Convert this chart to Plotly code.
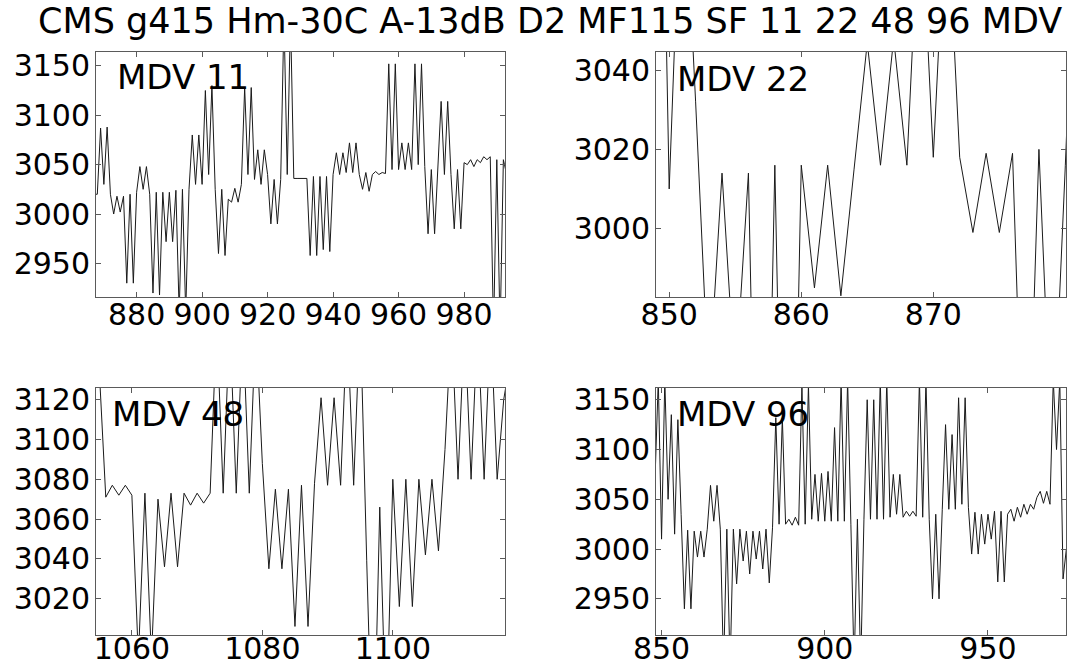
import plotly.graph_objects as go

# ---------------- data ----------------
title_text = "CMS g415 Hm-30C A-13dB D2 MF115 SF 11 22 48 96 MDV"
panel_labels = ["MDV 11", "MDV 22", "MDV 48", "MDV 96"]

# MDV 11
x11 = list(range(867, 994))
y11 = [3020, 3020, 3087, 3030, 3088, 3020, 3000, 3018, 3002, 3018,
       2930, 3020, 2930, 3022, 3048, 3025, 3048, 3020, 2920, 3022,
       2918, 3022, 2972, 3022, 2972, 3024, 2900, 3025, 2900, 3025,
       3080, 3030, 3080, 3030, 3125, 3040, 3130, 3025, 2960, 3025,
       2958, 3015, 3012, 3026, 3012, 3030, 3128, 3040, 3128, 3035,
       3065, 3030, 3065, 3040, 2990, 3035, 2990, 3035, 3200, 3040,
       3200, 3036, 3036, 3036, 3036, 3036, 2958, 3038, 2958, 3038,
       2964, 3038, 2962, 3040, 3062, 3040, 3062, 3042, 3072, 3042,
       3072, 3040, 3025, 3042, 3023, 3040, 3043, 3040, 3042, 3041,
       3152, 3045, 3152, 3045, 3072, 3045, 3072, 3045, 3152, 3050,
       3152, 3048, 2980, 3045, 2980, 3048, 3114, 3040, 3114, 3040,
       2985, 3045, 2985, 3052, 3050, 3055, 3048, 3055, 3052, 3058,
       3055, 3058, 2880, 3055, 2880, 3055, 3040]

# MDV 22
x22 = list(range(848, 882))
y22 = [3200, 3185, 3010, 3100, 3032, 2959, 3014, 2960, 3014, 2850,
       3016, 2850, 3016, 2985, 3016, 2983, 3015, 3047, 3016, 3048,
       3016, 3087, 3018, 3086, 3018, 2999, 3019, 2999, 3019, 2915,
       3020, 2940, 3016, 3100]

# MDV 48
x48 = list(range(1054, 1119))
y48 = [3160, 3135, 3071, 3077, 3072, 3077, 3072, 2990, 3073, 2990,
       3070, 3036, 3073, 3036, 3073, 3067, 3073, 3068, 3073, 3160,
       3073, 3160, 3073, 3160, 3073, 3160, 3088, 3035, 3075, 3035,
       3075, 3006, 3077, 3006, 3078, 3121, 3077, 3121, 3077, 3160,
       3077, 3163, 3039, 2925, 3066, 2950, 3080, 3016, 3080, 3016,
       3080, 3042, 3080, 3044, 3095, 3160, 3080, 3160, 3080, 3160,
       3080, 3160, 3080, 3120, 3140]

# MDV 96
x96 = list(range(848, 975))
y96 = [3070, 3170, 3010, 3170, 3050, 3135, 3015, 3130, 3035, 2940,
       3019, 2940, 3018, 2992, 3018, 2992, 3020, 3064, 3028, 3064,
       3020, 2880, 3020, 2880, 3020, 2965, 3020, 2988, 3018, 2975,
       3018, 2990, 3018, 2980, 3020, 2966, 3022, 3132, 3025, 3132,
       3025, 3030, 3024, 3032, 3024, 3165, 3025, 3165, 3030, 3075,
       3028, 3076, 3028, 3078, 3028, 3122, 3028, 3170, 3028, 3170,
       3025, 2880, 3030, 2880, 3030, 3150, 3030, 3150, 3030, 3170,
       3030, 3170, 3032, 3075, 3035, 3075, 3032, 3038, 3033, 3038,
       3033, 3170, 3032, 3170, 3030, 2950, 3035, 2950, 3040, 3125,
       3040, 3115, 3040, 3152, 3045, 3152, 3042, 2995, 3037, 2995,
       3035, 3005, 3035, 3010, 3038, 2967, 3038, 2967, 3035, 3040,
       3028, 3042, 3032, 3045, 3035, 3045, 3040, 3052, 3058, 3046,
       3058, 3045, 3170, 3100, 3170, 2970, 3000]

x_ranges = [[867.6, 992.5], [849.0, 880.05], [1054.5, 1117.2], [848.3, 973.9]]
y_ranges = [[2916, 3164], [2982.7, 3044.6], [3001.7, 3125.9], [2913.7, 3161.8]]
x_ticks = [[880, 900, 920, 940, 960, 980], [850, 860, 870], [1060, 1080, 1100], [850, 900, 950]]
y_ticks = [[2950, 3000, 3050, 3100, 3150], [3000, 3020, 3040],
           [3020, 3040, 3060, 3080, 3100, 3120], [2950, 3000, 3050, 3100, 3150]]

series_x = [x11, x22, x48, x96]
series_y = [y11, y22, y48, y96]

# ---------------- layout ----------------
W, H = 1074, 668
boxes = [  # left, right, top, bottom in pixels
    (96, 505, 52, 297),
    (656, 1066, 52, 297),
    (96, 505, 388, 635),
    (656, 1066, 388, 635),
]
label_pos = [(19, 25), (19, 27), (14, 25.7), (19, 25.8)]
x_standoff = [-9, -9, -13, -13]

FONT = "DejaVu Sans"
AX = "#5a5a5a"

fig = go.Figure()
layout = dict(
    width=W, height=H,
    margin=dict(l=0, r=0, t=0, b=0, autoexpand=False),
    paper_bgcolor="white", plot_bgcolor="white",
    showlegend=False,
    font=dict(family=FONT, size=30, color="black"),
    annotations=[dict(text=title_text, xref="paper", yref="paper",
                      x=549.5 / W, y=1, xanchor="center", yanchor="top",
                      showarrow=False, borderpad=0,
                      font=dict(family=FONT, size=35, color="black"))],
)

for i in range(4):
    n = "" if i == 0 else str(i + 1)
    l, r, t, b = boxes[i]
    fig.add_trace(go.Scatter(x=series_x[i], y=series_y[i], mode="lines",
                             line=dict(color="#1a1a1a", width=1),
                             xaxis="x" + n, yaxis="y" + n, hoverinfo="skip"))
    common = dict(showgrid=False, zeroline=False, showline=True, linecolor=AX,
                  linewidth=1, mirror="ticks", ticks="inside", ticklen=5,
                  tickcolor=AX, tickwidth=1, automargin=False,
                  tickfont=dict(family=FONT, size=30, color="black"))
    layout["xaxis" + n] = dict(common, domain=[l / W, r / W], range=x_ranges[i],
                               tickvals=x_ticks[i], anchor="y" + n,
                               ticklabelstandoff=x_standoff[i])
    layout["yaxis" + n] = dict(common, domain=[1 - b / H, 1 - t / H], range=y_ranges[i],
                               tickvals=y_ticks[i], anchor="x" + n,
                               ticklabelstandoff=-1)
    ox, oy = label_pos[i]
    layout["annotations"].append(dict(
        text=panel_labels[i], xref="x" + n + " domain", yref="y" + n + " domain",
        x=ox / (r - l), y=1 - oy / (b - t), xanchor="left", yanchor="middle",
        showarrow=False, font=dict(family=FONT, size=34, color="black")))

fig.update_layout(**layout)
fig.write_html("out.html")
